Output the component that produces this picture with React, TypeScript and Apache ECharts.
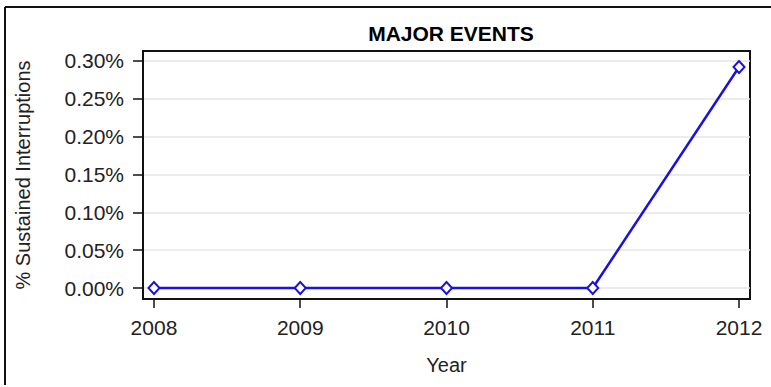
import React, { useEffect, useRef } from "react";
import * as echarts from "echarts";

const years = [2008, 2009, 2010, 2011, 2012];
const interruptionsPct = [0, 0, 0, 0, 0.292];
const yTicks = [0, 0.05, 0.1, 0.15, 0.2, 0.25, 0.3];

export default function App() {
  const ref = useRef<HTMLDivElement>(null);
  useEffect(() => {
    document.body.style.margin = "0";
    const chart = echarts.init(ref.current!, null, { renderer: "svg" });
    const font = "Arial, 'Liberation Sans', sans-serif";
    chart.setOption({
      animation: false,
      backgroundColor: "#ffffff",
      title: {
        text: "MAJOR EVENTS",
        left: 446,
        top: 18,
        textAlign: "center",
        textStyle: { fontFamily: font, fontSize: 21, fontWeight: "bold", color: "#000" },
      },
      grid: {
        left: 143,
        top: 51,
        right: 21,
        bottom: 88,
        show: true,
        borderColor: "#111",
        borderWidth: 2,
        containLabel: false,
      },
      graphic: [
        { type: "line", shape: { x1: 5, y1: 7, x2: 771, y2: 7 }, style: { stroke: "#111", lineWidth: 2 } },
        { type: "line", shape: { x1: 5, y1: 7, x2: 5, y2: 385 }, style: { stroke: "#111", lineWidth: 2 } },
      ],
      xAxis: {
        type: "value",
        min: 2007.925,
        max: 2012.075,
        name: "Year",
        nameLocation: "middle",
        nameGap: 56,
        nameTextStyle: { fontFamily: font, fontSize: 20, color: "#222" },
        axisLine: { show: true, onZero: false, lineStyle: { color: "#111", width: 2 } },
        axisTick: { show: true, length: 9, customValues: years, lineStyle: { color: "#111", width: 1.5 } },
        axisLabel: {
          customValues: years,
          fontFamily: font,
          fontSize: 21,
          color: "#222",
          margin: 18,
          formatter: (v: number) => String(Math.round(v)),
        },
        splitLine: { show: false },
      },
      yAxis: {
        type: "value",
        min: -0.0145,
        max: 0.3132,
        name: "% Sustained Interruptions",
        nameLocation: "middle",
        nameGap: 110,
        nameTextStyle: { fontFamily: font, fontSize: 20, color: "#222" },
        axisLine: { show: true, onZero: false, lineStyle: { color: "#111", width: 2 } },
        axisTick: { show: true, length: 10, customValues: yTicks, lineStyle: { color: "#111", width: 1.5 } },
        axisLabel: {
          customValues: yTicks,
          fontFamily: font,
          fontSize: 21,
          color: "#222",
          margin: 19,
          formatter: (v: number) => v.toFixed(2) + "%",
        },
        splitLine: {
          show: true,
          customValues: yTicks,
          lineStyle: { color: "#e6e6e6", width: 1.5 },
        },
      },
      series: [
        {
          type: "line",
          data: years.map((y, i) => [y, interruptionsPct[i]]),
          symbol: "diamond",
          symbolSize: [11, 12],
          showSymbol: true,
          lineStyle: { color: "#1a10e0", width: 2.5 },
          itemStyle: { color: "#ffffff", borderColor: "#1a10e0", borderWidth: 2 },
          z: 5,
        },
      ],
    });
    return () => chart.dispose();
  }, []);
  return <div ref={ref} style={{ width: 771, height: 387 }} />;
}
